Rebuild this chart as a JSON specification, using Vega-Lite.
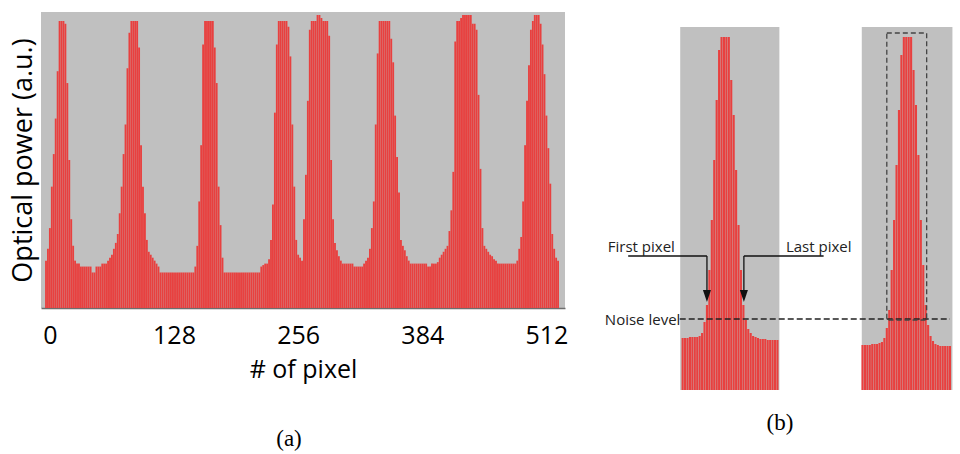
{
"$schema": "https://vega.github.io/schema/vega-lite/v6.json",
"background": "white",
"padding": {"left": 8, "top": 12, "right": 0, "bottom": 0},
"spacing": 27,
"config": {"view": {"stroke": null}},
"hconcat": [
{
"width": 524, "height": 296,
"view": {"fill": "#c0c0c0", "stroke": null},
"title": {"text": "(a)", "orient": "bottom", "anchor": "middle", "font": "Liberation Serif", "fontSize": 23, "fontWeight": "normal", "offset": 46, "dx": -14, "color": "black"},
"data": {"values": [
{"p":-4,"v":16},{"p":-2,"v":20},{"p":0,"v":27},{"p":2,"v":41},{"p":4,"v":52},{"p":6,"v":64},{"p":8,"v":80},{"p":10,"v":97},{"p":12,"v":97},{"p":14,"v":97},
{"p":16,"v":96},{"p":18,"v":76},{"p":20,"v":50},{"p":22,"v":30},{"p":24,"v":21},{"p":26,"v":16},{"p":28,"v":15},{"p":30,"v":15},{"p":32,"v":14},{"p":34,"v":14},
{"p":36,"v":14},{"p":38,"v":14},{"p":40,"v":14},{"p":42,"v":14},{"p":44,"v":12},{"p":46,"v":12},{"p":48,"v":14},{"p":50,"v":14},{"p":52,"v":14},{"p":54,"v":15},
{"p":56,"v":15},{"p":58,"v":15},{"p":60,"v":16},{"p":62,"v":17},{"p":64,"v":18},{"p":66,"v":20},{"p":68,"v":22},{"p":70,"v":25},{"p":72,"v":32},{"p":74,"v":41},
{"p":76,"v":52},{"p":78,"v":62},{"p":80,"v":81},{"p":82,"v":93},{"p":84,"v":97},{"p":86,"v":97},{"p":88,"v":97},{"p":90,"v":97},{"p":92,"v":88},{"p":94,"v":55},
{"p":96,"v":41},{"p":98,"v":32},{"p":100,"v":23},{"p":102,"v":19},{"p":104,"v":18},{"p":106,"v":17},{"p":108,"v":16},{"p":110,"v":15},{"p":112,"v":14},{"p":114,"v":12},
{"p":116,"v":12},{"p":118,"v":12},{"p":120,"v":12},{"p":122,"v":12},{"p":124,"v":12},{"p":126,"v":12},{"p":128,"v":12},{"p":130,"v":12},{"p":132,"v":12},{"p":134,"v":12},
{"p":136,"v":12},{"p":138,"v":12},{"p":140,"v":12},{"p":142,"v":12},{"p":144,"v":12},{"p":146,"v":12},{"p":148,"v":12},{"p":150,"v":14},{"p":152,"v":21},{"p":154,"v":36},
{"p":156,"v":55},{"p":158,"v":89},{"p":160,"v":97},{"p":162,"v":97},{"p":164,"v":97},{"p":166,"v":97},{"p":168,"v":97},{"p":170,"v":88},{"p":172,"v":76},{"p":174,"v":41},
{"p":176,"v":28},{"p":178,"v":17},{"p":180,"v":12},{"p":182,"v":12},{"p":184,"v":12},{"p":186,"v":12},{"p":188,"v":12},{"p":190,"v":12},{"p":192,"v":12},{"p":194,"v":12},
{"p":196,"v":12},{"p":198,"v":12},{"p":200,"v":12},{"p":202,"v":12},{"p":204,"v":12},{"p":206,"v":12},{"p":208,"v":12},{"p":210,"v":12},{"p":212,"v":12},{"p":214,"v":12},
{"p":216,"v":12},{"p":218,"v":14},{"p":220,"v":14.5},{"p":222,"v":15},{"p":224,"v":15},{"p":226,"v":16.5},{"p":228,"v":23},{"p":230,"v":35},{"p":232,"v":66},{"p":234,"v":89},
{"p":236,"v":97},{"p":238,"v":97},{"p":240,"v":97},{"p":242,"v":97},{"p":244,"v":97},{"p":246,"v":95},{"p":248,"v":85},{"p":250,"v":62},{"p":252,"v":41},{"p":254,"v":23},
{"p":256,"v":18},{"p":258,"v":17},{"p":260,"v":16},{"p":262,"v":30},{"p":264,"v":45},{"p":266,"v":70},{"p":268,"v":94},{"p":270,"v":97},{"p":272,"v":97},{"p":274,"v":97},
{"p":276,"v":99},{"p":278,"v":99},{"p":280,"v":98},{"p":282,"v":97},{"p":284,"v":97},{"p":286,"v":97},{"p":288,"v":92},{"p":290,"v":50},{"p":292,"v":30},{"p":294,"v":22},
{"p":296,"v":19.5},{"p":298,"v":17.5},{"p":300,"v":16},{"p":302,"v":15},{"p":304,"v":15},{"p":306,"v":15},{"p":308,"v":15},{"p":310,"v":15},{"p":312,"v":15},{"p":314,"v":14},
{"p":316,"v":14},{"p":318,"v":14},{"p":320,"v":14},{"p":322,"v":14},{"p":324,"v":15},{"p":326,"v":16},{"p":328,"v":17},{"p":330,"v":20},{"p":332,"v":27},{"p":334,"v":36},
{"p":336,"v":62},{"p":338,"v":86},{"p":340,"v":97},{"p":342,"v":97},{"p":344,"v":97},{"p":346,"v":97},{"p":348,"v":97},{"p":350,"v":97},{"p":352,"v":91},{"p":354,"v":83},
{"p":356,"v":65},{"p":358,"v":51},{"p":360,"v":39},{"p":362,"v":23},{"p":364,"v":21},{"p":366,"v":19.5},{"p":368,"v":17.5},{"p":370,"v":16},{"p":372,"v":15},{"p":374,"v":15},
{"p":376,"v":15},{"p":378,"v":15},{"p":380,"v":15},{"p":382,"v":15},{"p":384,"v":15},{"p":386,"v":15},{"p":388,"v":15},{"p":390,"v":14},{"p":392,"v":14},{"p":394,"v":15},
{"p":396,"v":15},{"p":398,"v":15},{"p":400,"v":15.5},{"p":402,"v":17},{"p":404,"v":18},{"p":406,"v":19},{"p":408,"v":20},{"p":410,"v":21},{"p":412,"v":26},{"p":414,"v":33},
{"p":416,"v":46},{"p":418,"v":90},{"p":420,"v":97},{"p":422,"v":97},{"p":424,"v":98},{"p":426,"v":99},{"p":428,"v":99},{"p":430,"v":99},{"p":432,"v":99},{"p":434,"v":99},
{"p":436,"v":96},{"p":438,"v":96},{"p":440,"v":94},{"p":442,"v":72},{"p":444,"v":47},{"p":446,"v":27},{"p":448,"v":21},{"p":450,"v":20},{"p":452,"v":19},{"p":454,"v":18},
{"p":456,"v":17.5},{"p":458,"v":16.5},{"p":460,"v":16},{"p":462,"v":15},{"p":464,"v":15},{"p":466,"v":15},{"p":468,"v":15},{"p":470,"v":15},{"p":472,"v":15},{"p":474,"v":15},
{"p":476,"v":15},{"p":478,"v":15},{"p":480,"v":15},{"p":482,"v":16},{"p":484,"v":20},{"p":486,"v":24},{"p":488,"v":36},{"p":490,"v":55},{"p":492,"v":70},{"p":494,"v":82},
{"p":496,"v":94},{"p":498,"v":97},{"p":500,"v":99},{"p":502,"v":99},{"p":504,"v":99},{"p":506,"v":96},{"p":508,"v":89},{"p":510,"v":79},{"p":512,"v":65},{"p":514,"v":54},
{"p":516,"v":42},{"p":518,"v":25},{"p":520,"v":20},{"p":522,"v":17},{"p":524,"v":16}
]},
"mark": {"type": "bar", "width": 1.85, "color": "#e8403f", "clip": true},
"encoding": {
"x": {"field": "p", "type": "quantitative", "scale": {"domain": [-4, 526], "nice": false, "zero": false},
 "axis": {"values": [0,128,256,384,512], "title": "# of pixel", "grid": false, "ticks": false, "tickSize": 0, "domainColor": "#6e6e6e", "domainWidth": 1.5, "labelFont": "Open Sans", "labelFontSize": 25, "labelColor": "black", "labelPadding": 15, "labelFlush": false, "labelOverlap": false, "titleFont": "Open Sans", "titleFontSize": 25, "titleFontWeight": "normal", "titleColor": "black", "titlePadding": 9}},
"y": {"field": "v", "type": "quantitative", "scale": {"domain": [0, 100], "nice": false},
 "axis": {"title": "Optical power (a.u.)", "labels": false, "ticks": false, "tickSize": 0, "domain": false, "grid": false, "titleFont": "Open Sans", "titleFontSize": 27, "titleFontWeight": "normal", "titleColor": "black", "titlePadding": 4}}
}
},
{
"width": 360, "height": 388,
"title": {"text": "(b)", "orient": "bottom", "anchor": "middle", "font": "Liberation Serif", "fontSize": 23, "fontWeight": "normal", "offset": 12, "dx": 5, "color": "black"},
"layer": [
{
"data": {"values": [{"x":33,"x2":73.8,"y":10,"y2":373},{"x":107.7,"x2":145,"y":10,"y2":373}]},
"mark": {"type": "rect", "color": "#c0c0c0", "clip": true},
"encoding": {
"x": {"field": "x", "type": "quantitative", "scale": {"domain": [0, 144], "nice": false, "zero": false}, "axis": null},
"x2": {"field": "x2"},
"y": {"field": "y", "type": "quantitative", "scale": {"domain": [0, 388], "nice": false, "zero": false}, "axis": null},
"y2": {"field": "y2"}
}
},
{
"data": {"values": [
{"x":34,"y":62},{"x":35,"y":62},{"x":36,"y":62},{"x":37,"y":63},{"x":38,"y":63},{"x":39,"y":63},{"x":40,"y":63},{"x":41,"y":64},{"x":42,"y":67},{"x":43,"y":78},
{"x":44,"y":95},{"x":45,"y":130},{"x":46,"y":180},{"x":47,"y":240},{"x":48,"y":300},{"x":49,"y":350},{"x":50,"y":363},{"x":51,"y":363},{"x":52,"y":363},{"x":53,"y":363},
{"x":54,"y":320},{"x":55,"y":285},{"x":56,"y":230},{"x":57,"y":175},{"x":58,"y":130},{"x":59,"y":95},{"x":60,"y":80},{"x":61,"y":71},{"x":62,"y":67},{"x":63,"y":64},
{"x":64,"y":63},{"x":65,"y":62},{"x":66,"y":61},{"x":67,"y":61},{"x":68,"y":61},{"x":69,"y":60},{"x":70,"y":60},{"x":71,"y":60},{"x":72,"y":60},{"x":73,"y":60},
{"x":108,"y":55},{"x":109,"y":55},{"x":110,"y":55},{"x":111,"y":55},{"x":112,"y":56},{"x":113,"y":56},{"x":114,"y":56},{"x":115,"y":57},{"x":116,"y":58},{"x":117,"y":62},
{"x":118,"y":72},{"x":119,"y":90},{"x":120,"y":130},{"x":121,"y":180},{"x":122,"y":235},{"x":123,"y":290},{"x":124,"y":345},{"x":125,"y":363},{"x":126,"y":363},{"x":127,"y":363},
{"x":128,"y":363},{"x":129,"y":330},{"x":130,"y":295},{"x":131,"y":245},{"x":132,"y":180},{"x":133,"y":135},{"x":134,"y":95},{"x":135,"y":75},{"x":136,"y":64},{"x":137,"y":59},
{"x":138,"y":56},{"x":139,"y":55},{"x":140,"y":54},{"x":141,"y":54},{"x":142,"y":54},{"x":143,"y":54},{"x":144,"y":54}
]},
"mark": {"type": "bar", "width": 2.1, "color": "#e8403f", "clip": true},
"encoding": {
"x": {"field": "x", "type": "quantitative", "scale": {"domain": [0, 144], "nice": false, "zero": false}, "axis": null},
"y": {"field": "y", "type": "quantitative", "scale": {"domain": [0, 388], "nice": false, "zero": false}, "axis": null},
"y2": {"datum": 10}
}
},
{
"data": {"values": [{"x":32.8,"x2":144,"y":81}]},
"mark": {"type": "rule", "color": "#222222", "strokeWidth": 1.3, "strokeDash": [6, 3], "clip": true},
"encoding": {
"x": {"field": "x", "type": "quantitative", "scale": {"domain": [0, 144], "nice": false, "zero": false}, "axis": null},
"x2": {"field": "x2"},
"y": {"field": "y", "type": "quantitative", "scale": {"domain": [0, 388], "nice": false, "zero": false}, "axis": null}
}
},
{
"data": {"values": [{"x":118,"x2":134.4,"y":80,"y2":367}]},
"mark": {"type": "rect", "fillOpacity": 0, "stroke": "#444444", "strokeWidth": 1.3, "strokeDash": [5, 3]},
"encoding": {
"x": {"field": "x", "type": "quantitative", "scale": {"domain": [0, 144], "nice": false, "zero": false}, "axis": null},
"x2": {"field": "x2"},
"y": {"field": "y", "type": "quantitative", "scale": {"domain": [0, 388], "nice": false, "zero": false}, "axis": null},
"y2": {"field": "y2"}
}
},
{
"data": {"values": [
{"x":11.6,"x2":44,"y":144,"y2":144},{"x":44,"x2":44,"y":144,"y2":110},
{"x":92,"x2":59.2,"y":144,"y2":144},{"x":59.2,"x2":59.2,"y":144,"y2":110}
]},
"mark": {"type": "rule", "color": "#111111", "strokeWidth": 1.3},
"encoding": {
"x": {"field": "x", "type": "quantitative", "scale": {"domain": [0, 144], "nice": false, "zero": false}, "axis": null},
"x2": {"field": "x2"},
"y": {"field": "y", "type": "quantitative", "scale": {"domain": [0, 388], "nice": false, "zero": false}, "axis": null},
"y2": {"field": "y2"}
}
},
{
"data": {"values": [{"x":44,"y":104},{"x":59.2,"y":104}]},
"mark": {"type": "point", "shape": "M-0.67,-1L0.67,-1L0,1Z", "filled": true, "color": "#111111", "size": 144, "opacity": 1},
"encoding": {
"x": {"field": "x", "type": "quantitative", "scale": {"domain": [0, 144], "nice": false, "zero": false}, "axis": null},
"y": {"field": "y", "type": "quantitative", "scale": {"domain": [0, 388], "nice": false, "zero": false}, "axis": null}
}
},
{
"data": {"values": [{"x":3.2,"y":148,"t":"First pixel"},{"x":76.5,"y":148,"t":"Last pixel"},{"x":2,"y":75,"t":"Noise level"}]},
"mark": {"type": "text", "align": "left", "baseline": "alphabetic", "font": "Open Sans", "fontSize": 15, "color": "#222222"},
"encoding": {
"x": {"field": "x", "type": "quantitative", "scale": {"domain": [0, 144], "nice": false, "zero": false}, "axis": null},
"y": {"field": "y", "type": "quantitative", "scale": {"domain": [0, 388], "nice": false, "zero": false}, "axis": null},
"text": {"field": "t"}
}
}
]
}
]
}
